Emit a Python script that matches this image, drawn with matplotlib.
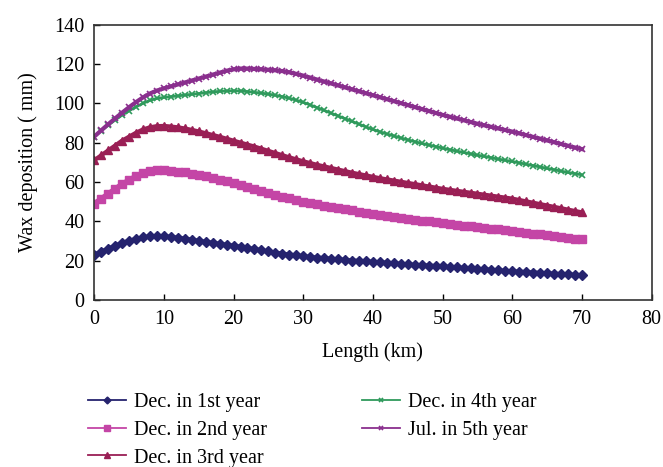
# 蜡沉积随管长变化曲线
import matplotlib
matplotlib.use("Agg")
from matplotlib import pyplot as plt

plt.rcParams['font.family'] = ['Liberation Serif', 'DejaVu Serif']

# 输入数据
length_km = list(range(0, 71))

dec_1st = [23, 24.5, 26, 27.5, 29, 30, 31, 31.8, 32.3, 32.5,
           32.4, 32, 31.6, 31.1, 30.6, 30, 29.5, 29, 28.5, 28,
           27.5, 27, 26.4, 25.8, 25.2, 24.6, 24, 23.5, 23, 22.6,
           22.2, 21.8, 21.5, 21.2, 20.9, 20.6, 20.3, 20, 19.8, 19.6,
           19.3, 19.1, 18.8, 18.6, 18.3, 18, 17.8, 17.6, 17.4, 17.2,
           17, 16.7, 16.5, 16.2, 16, 15.7, 15.5, 15.2, 15, 14.7,
           14.5, 14.3, 14.1, 13.9, 13.7, 13.5, 13.3, 13.1, 12.9, 12.7,
           12.5]
dec_2nd = [49, 51.5, 54, 56.5, 59, 61, 63, 64.5, 65.5, 66,
           66, 65.7, 65.3, 64.8, 64.2, 63.5, 62.8, 62, 61.2, 60.3,
           59.4, 58.4, 57.4, 56.4, 55.4, 54.4, 53.4, 52.5, 51.6, 50.8,
           50, 49.3, 48.6, 47.9, 47.3, 46.7, 46.1, 45.5, 44.9, 44.3,
           43.8, 43.2, 42.7, 42.2, 41.7, 41.2, 40.8, 40.3, 39.9, 39.4,
           39, 38.6, 38.2, 37.8, 37.4, 37, 36.6, 36.2, 35.8, 35.4,
           35, 34.5, 34.1, 33.7, 33.3, 32.8, 32.4, 32, 31.6, 31.2,
           30.8]
dec_3rd = [71, 73.5, 76, 78.5, 81, 83, 85, 86.7, 87.8, 88.4,
           88.5, 88.2, 87.8, 87.2, 86.5, 85.7, 84.8, 83.9, 83, 82,
           81, 80, 79, 78, 76.9, 75.8, 74.7, 73.6, 72.5, 71.5,
           70.5, 69.6, 68.7, 67.9, 67.1, 66.3, 65.5, 64.7, 64, 63.3,
           62.6, 61.9, 61.3, 60.7, 60.1, 59.5, 58.9, 58.3, 57.7, 57.1,
           56.5, 56, 55.5, 55, 54.5, 54, 53.5, 53, 52.5, 52,
           51.5, 50.8, 50.1, 49.4, 48.7, 48, 47.3, 46.6, 45.9, 45.2,
           44.5]
dec_4th = [83, 86, 88.8, 91.5, 94, 96.2, 98.2, 100, 101.5, 102.5,
           103, 103.4, 103.8, 104.2, 104.6, 105, 105.4, 105.8, 106.1, 106.3,
           106.4, 106.3, 106, 105.6, 105.2, 104.7, 104.1, 103.4, 102.6, 101.6,
           100.5, 99.2, 97.8, 96.4, 95, 93.6, 92.2, 90.8, 89.4, 88,
           86.7, 85.5, 84.4, 83.4, 82.4, 81.4, 80.5, 79.6, 78.8, 78,
           77.2, 76.4, 75.7, 75, 74.3, 73.6, 73, 72.3, 71.6, 71,
           70.4, 69.7, 69, 68.3, 67.6, 66.9, 66.2, 65.5, 64.8, 64.2,
           63.6]
jul_5th = [83, 86.2, 89.3, 92.3, 95.2, 98, 100.6, 103, 105, 106.5,
           107.6, 108.6, 109.6, 110.6, 111.6, 112.6, 113.6, 114.6, 115.6, 116.6,
           117.3, 117.7, 117.7, 117.5, 117.3, 117.1, 116.8, 116.4, 115.8, 115,
           114.1, 113.1, 112.1, 111.1, 110.1, 109.1, 108.1, 107.1, 106.1, 105.1,
           104.1, 103.1, 102.1, 101.1, 100.1, 99.1, 98.1, 97.1, 96.1, 95.1,
           94.1, 93.2, 92.3, 91.4, 90.5, 89.6, 88.8, 88, 87.2, 86.4,
           85.6, 84.7, 83.8, 82.9, 82, 81.1, 80.2, 79.3, 78.4, 77.5,
           76.7]

labels = ["Dec. in 1st year", "Dec. in 2nd year", "Dec. in 3rd year",
          "Dec. in 4th year", "Jul. in 5th year"]

# 图形大小
fig = plt.figure(figsize=(6.63, 4.67), dpi=100)
ax = fig.add_axes([0.142, 0.358, 0.841, 0.589])

# 绘制图形
ax.plot(length_km, dec_1st, color="#25236e", marker="D", ms=5, lw=3, label=labels[0])
ax.plot(length_km, dec_2nd, color="#c445a6", marker="s", ms=5.5, lw=3.5, label=labels[1])
ax.plot(length_km, dec_3rd, color="#9a1f55", marker="^", ms=6, lw=3, label=labels[2])
ax.plot(length_km, dec_4th, color="#2f9a5c", marker="x", ms=4.5, mew=1.2, lw=2, label=labels[3])
ax.plot(length_km, jul_5th, color="#8a2f8e", marker="x", ms=4.5, mew=1.2, lw=3, label=labels[4])

ax.set_xlim(0, 80)
ax.set_ylim(0, 140)
ax.set_xticks(range(0, 81, 10))
ax.set_yticks(range(0, 141, 20))
ax.tick_params(direction="in", length=4, width=1, labelsize=14.5, pad=7)
for s in ax.spines.values():
    s.set_linewidth(1.2)
    s.set_color("#333333")

# 标签
ax.set_xlabel("Length (km)", fontsize=14.5, labelpad=10)
ax.set_ylabel("Wax deposition ( mm)", fontsize=14.5, labelpad=12)

# 绘制图例
handles, _ = ax.get_legend_handles_labels()
leg = fig.legend(handles, labels, ncol=2, frameon=False, fontsize=14.5,
                 loc="upper left", bbox_to_anchor=(0.12, 0.175),
                 handlelength=1.9, handletextpad=0.4, labelspacing=0.42,
                 columnspacing=4.7, markerscale=0.7, borderaxespad=0)
for h in leg.legend_handles:
    h.set_linewidth(1.3)

# 保存图片
plt.savefig("out.png", dpi=100)
